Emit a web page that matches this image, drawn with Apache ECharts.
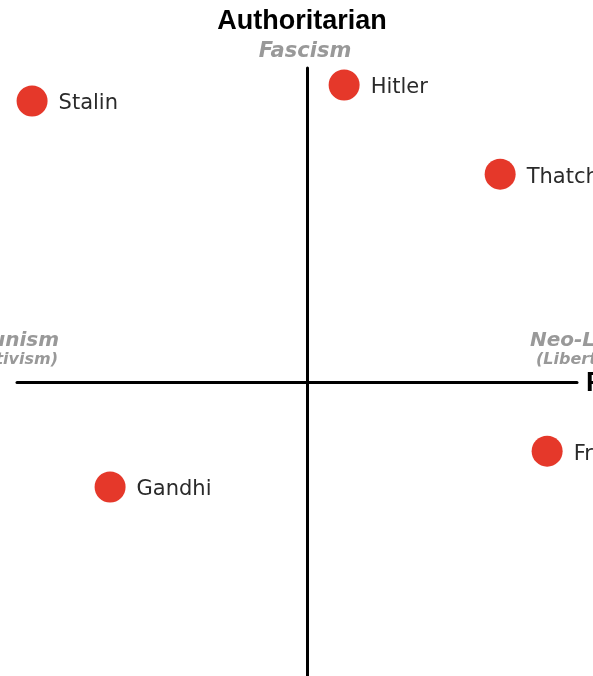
<!DOCTYPE html>
<html>
<head>
<meta charset="utf-8">
<script src="https://cdn.jsdelivr.net/npm/echarts@6/dist/echarts.min.js"></script>
<style>html,body{margin:0;padding:0;background:#fff}#c{width:593px;height:676px}</style>
</head>
<body>
<div id="c"></div>
<script>
const names = ['Stalin', 'Hitler', 'Thatcher', 'Friedman', 'Gandhi'];
const economic = [-9.48, 1.28, 6.66, 8.28, -6.79];
const social = [8.95, 9.46, 6.62, -2.20, -3.34];

const chart = echarts.init(document.getElementById('c'));
const pts = names.map((n, i) => ({ name: n, value: [economic[i], social[i]] }));
chart.setOption({
  animation: false,
  backgroundColor: '#fff',
  grid: { left: 17, right: 16, top: 68, bottom: 0 },
  xAxis: {
    type: 'value', min: -10, max: 9.31,
    axisLine: { onZero: true, lineStyle: { color: '#000', width: 3 } },
    axisTick: { show: false }, axisLabel: { show: false }, splitLine: { show: false }
  },
  yAxis: {
    type: 'value', min: -9.36, max: 10,
    axisLine: { onZero: true, lineStyle: { color: '#000', width: 3 } },
    axisTick: { show: false }, axisLabel: { show: false }, splitLine: { show: false }
  },
  series: [{
    type: 'scatter',
    data: pts,
    symbol: 'circle',
    symbolSize: 31,
    itemStyle: { color: '#E5382A', opacity: 1 },
    label: {
      show: true, position: 'right', distance: 11, offset: [0, 3],
      formatter: p => p.name,
      color: '#2a2a2a', fontFamily: 'DejaVu Sans', fontSize: 21
    },
    clip: false
  }],
  graphic: [
    { type: 'text', x: 302, y: 22, style: { text: 'Authoritarian', font: 'bold 27px "Liberation Sans"', fill: '#000', textAlign: 'center', textVerticalAlign: 'middle' } },
    { type: 'text', x: 305, y: 52, style: { text: 'Fascism', font: 'italic bold 21px "DejaVu Sans"', fill: '#999', textAlign: 'center', textVerticalAlign: 'middle' } },
    { type: 'text', x: 59, y: 341, style: { text: 'Communism', font: 'italic bold 20px "DejaVu Sans"', fill: '#999', textAlign: 'right', textVerticalAlign: 'middle' } },
    { type: 'text', x: 58, y: 360, style: { text: '(Collectivism)', font: 'italic bold 16px "DejaVu Sans"', fill: '#999', textAlign: 'right', textVerticalAlign: 'middle' } },
    { type: 'text', x: 530, y: 341, style: { text: 'Neo-Liberalism', font: 'italic bold 20px "DejaVu Sans"', fill: '#999', textAlign: 'left', textVerticalAlign: 'middle' } },
    { type: 'text', x: 536, y: 360, style: { text: '(Libertarianism)', font: 'italic bold 16px "DejaVu Sans"', fill: '#999', textAlign: 'left', textVerticalAlign: 'middle' } },
    { type: 'text', x: 586, y: 384, style: { text: 'Right', font: 'bold 27px "Liberation Sans"', fill: '#000', textAlign: 'left', textVerticalAlign: 'middle' } },
    { type: 'text', x: -1, y: 384, style: { text: 'Left', font: 'bold 27px "Liberation Sans"', fill: '#000', textAlign: 'right', textVerticalAlign: 'middle' } }
  ]
});
</script>
</body>
</html>
